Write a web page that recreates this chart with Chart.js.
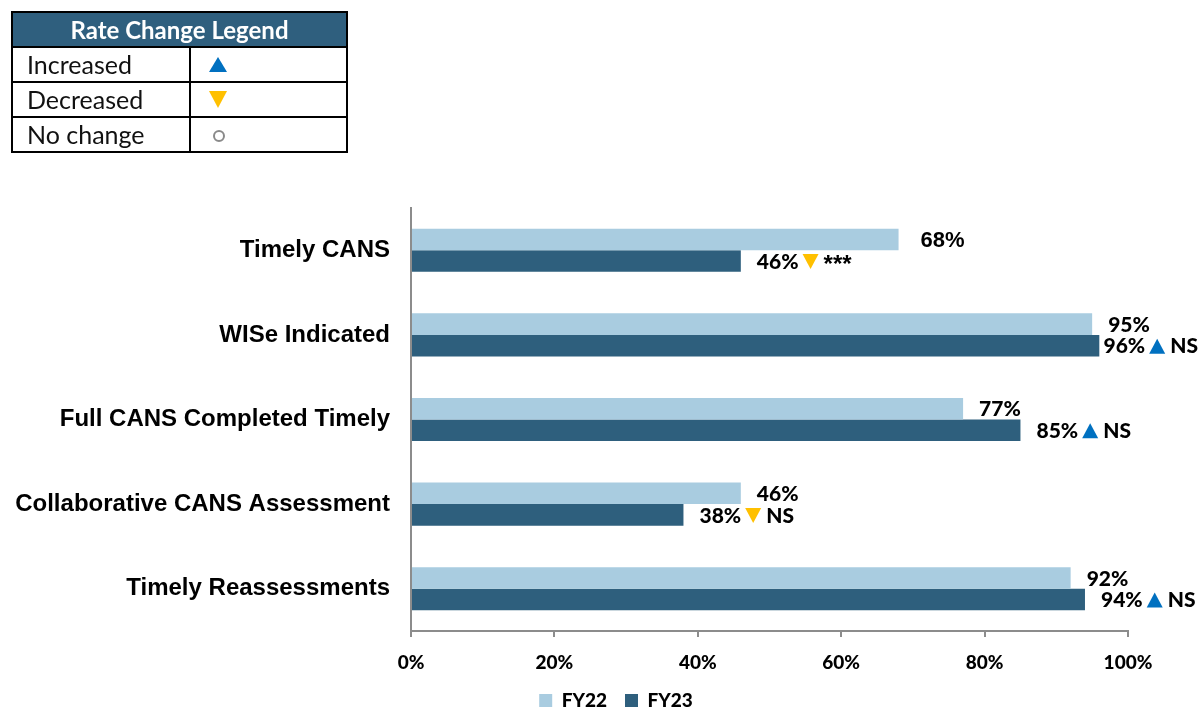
<!DOCTYPE html>
<html>
<head>
<meta charset="utf-8">
<script src="https://cdn.jsdelivr.net/npm/chart.js@4.4.1/dist/chart.umd.min.js"></script>
<style>
  html, body { margin: 0; padding: 0; background: #fff; }
  #wrap { position: relative; width: 1201px; height: 709px; }
  #chart { position: absolute; left: 0; top: 0; }
  .key { position: absolute; left: 11px; top: 11px; width: 337px; border-collapse: collapse;
         font-family: Lato, "Open Sans", sans-serif; }
  .key th { background: #2F5F7E; color: #fff; font-weight: 700; font-size: 24px; line-height: 31px; height: 33px;
            border: 2px solid #000; padding: 0; text-align: center; }
  .key td { border: 2px solid #000; height: 33px; line-height: 31px; padding: 0; font-size: 25px; color: #111; }
  .key td.name { padding-left: 14px; width: 162px; }
  .key td.sym { position: relative; }
  .up { position: absolute; left: 18px; top: 9px; width: 0; height: 0;
        border-left: 9px solid transparent; border-right: 9px solid transparent; border-bottom: 15px solid #0070C0; }
  .down { position: absolute; left: 18px; top: 8px; width: 0; height: 0;
          border-left: 9px solid transparent; border-right: 9px solid transparent; border-top: 17px solid #FFC000; }
  .none { position: absolute; left: 22px; top: 12px; width: 8px; height: 8px; border: 2px solid #8a8a8a; border-radius: 50%; }
</style>
</head>
<body>
<div id="wrap">
  <canvas id="chart" width="1201" height="709"></canvas>
  <table class="key">
    <tr><th colspan="2">Rate Change Legend</th></tr>
    <tr><td class="name">Increased</td><td class="sym"><span class="up"></span></td></tr>
    <tr><td class="name">Decreased</td><td class="sym"><span class="down"></span></td></tr>
    <tr><td class="name">No change</td><td class="sym"><span class="none"></span></td></tr>
  </table>
</div>
<script>
// Measures and results
const categories = [
  'Timely CANS',
  'WISe Indicated',
  'Full CANS Completed Timely',
  'Collaborative CANS Assessment',
  'Timely Reassessments'
];
const fy22 = [68, 95, 77, 46, 92];
const fy23 = [46, 96, 85, 38, 94];
// Direction of change FY22 -> FY23 and significance marker
const changeDir = ['down', 'up', 'up', 'down', 'up'];
const significance = ['***', 'NS', 'NS', 'NS', 'NS'];
const xTicks = [0, 20, 40, 60, 80, 100];

const COLOR_FY22 = '#A9CCE0';
const COLOR_FY23 = '#2E5F7D';
const AXIS_GRAY = '#8C8C8C';
const LABEL_FONT = '"Lato", "Open Sans", sans-serif';

// Value labels at the end of each bar, with change arrow and significance on FY23
const barLabels = {
  id: 'barLabels',
  afterDatasetsDraw(chart) {
    const ctx = chart.ctx;
    const limit = chart.width - 3;
    ctx.save();
    ctx.textBaseline = 'middle';
    chart.data.datasets.forEach((ds, di) => {
      const meta = chart.getDatasetMeta(di);
      meta.data.forEach((bar, i) => {
        const txt = ds.data[i] + '%';
        const headline = (di === 0 && i === 0);
        const valueFont = headline ? 'bold 22px "Liberation Sans", Arial, sans-serif' : '900 21px ' + LABEL_FONT;
        const sig = di === 1 ? significance[i] : '';
        const sigFont = sig === '***' ? 'bold 24px "Liberation Sans", Arial, sans-serif' : '900 21px ' + LABEL_FONT;
        ctx.font = valueFont;
        const wVal = ctx.measureText(txt).width;
        let total = wVal;
        if (di === 1) {
          ctx.font = sigFont;
          total += 4 + 16 + 5 + ctx.measureText(sig).width;
        }
        let x = bar.x + (headline ? 22 : 16);
        if (x + total > limit) x = limit - total;
        const y = bar.y + 1;
        ctx.fillStyle = '#000';
        ctx.textAlign = 'left';
        ctx.font = valueFont;
        ctx.fillText(txt, x, y);
        if (di === 1) {
          const tx = x + wVal + 4;
          ctx.beginPath();
          if (changeDir[i] === 'up') {
            ctx.fillStyle = '#0070C0';
            ctx.moveTo(tx, y + 7);
            ctx.lineTo(tx + 16, y + 7);
            ctx.lineTo(tx + 8, y - 8);
          } else {
            ctx.fillStyle = '#FFC000';
            ctx.moveTo(tx, y - 8);
            ctx.lineTo(tx + 16, y - 8);
            ctx.lineTo(tx + 8, y + 7);
          }
          ctx.closePath();
          ctx.fill();
          ctx.fillStyle = '#000';
          ctx.font = sigFont;
          ctx.fillText(sig, tx + 16 + 5, sig === '***' ? y + 3 : y);
        }
      });
    });
    ctx.restore();
  }
};

// Nudge the series legend so it sits a little right of the canvas centre
const legendOffset = {
  id: 'legendOffset',
  afterLayout(chart) {
    const lg = chart.legend;
    if (lg) { lg.left += 47; lg.right += 47; }
  }
};

new Chart(document.getElementById('chart'), {
  type: 'bar',
  data: {
    labels: categories,
    datasets: [
      { label: 'FY22', data: fy22, backgroundColor: COLOR_FY22,
        categoryPercentage: 0.51, barPercentage: 1.0 },
      { label: 'FY23', data: fy23, backgroundColor: COLOR_FY23,
        categoryPercentage: 0.51, barPercentage: 1.0 }
    ]
  },
  options: {
    indexAxis: 'y',
    responsive: false,
    animation: false,
    layout: { padding: { top: 208, right: 73, left: 10, bottom: -11 } },
    scales: {
      x: {
        min: 0, max: 100,
        afterBuildTicks(scale) { scale.ticks = xTicks.map(v => ({ value: v })); },
        afterFit(scale) { scale.height = 42; },
        grid: { drawOnChartArea: false, drawTicks: true, tickLength: 6, color: AXIS_GRAY, lineWidth: 2 },
        border: { display: true, color: AXIS_GRAY, width: 2 },
        ticks: {
          padding: 14,
          color: '#000',
          font: { family: LABEL_FONT, weight: '900', size: 19 },
          callback: v => v + '%'
        }
      },
      y: {
        afterFit(scale) { scale.width = 401; },
        grid: { display: false, drawTicks: false },
        border: { display: true, color: AXIS_GRAY, width: 2 },
        ticks: {
          padding: 21,
          color: '#000',
          font: { family: '"Liberation Sans", Arial, sans-serif', weight: 'bold', size: 24 }
        }
      }
    },
    plugins: {
      legend: {
        position: 'bottom',
        labels: {
          boxWidth: 13, boxHeight: 13, padding: 18,
          color: '#000',
          font: { family: LABEL_FONT, weight: '900', size: 19 }
        }
      },
      tooltip: { enabled: false }
    }
  },
  plugins: [barLabels, legendOffset]
});
</script>
</body>
</html>
